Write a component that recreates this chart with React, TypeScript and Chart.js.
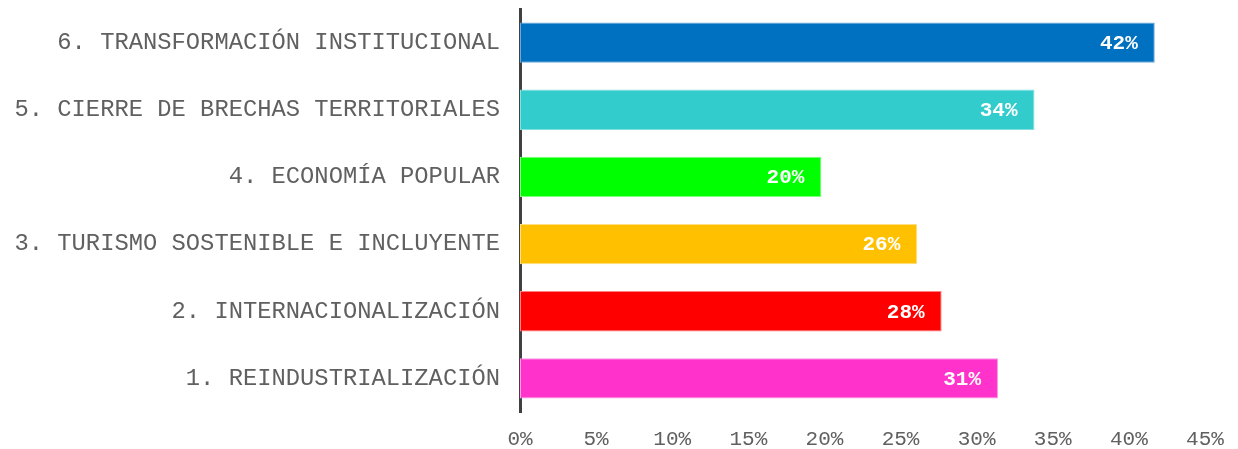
import React, { useEffect, useRef } from "react";
import { Chart, registerables } from "chart.js";

Chart.register(...registerables);

const categories = [
  "6. TRANSFORMACIÓN INSTITUCIONAL",
  "5. CIERRE DE BRECHAS TERRITORIALES",
  "4. ECONOMÍA POPULAR",
  "3. TURISMO SOSTENIBLE E INCLUYENTE",
  "2. INTERNACIONALIZACIÓN",
  "1. REINDUSTRIALIZACIÓN",
];
const values = [41.7, 33.8, 19.8, 26.1, 27.7, 31.4];
const barColors = ["#0070C0", "#33CCCC", "#00FF00", "#FFC000", "#FF0000", "#FF33CC"];
const borderColors = ["#6FA8DC", "#85E0E0", "#80FF80", "#FFDF80", "#FF8080", "#FF99E6"];
const xTicks = [0, 5, 10, 15, 20, 25, 30, 35, 40, 45];

const FONT = "'Liberation Mono', 'Courier New', monospace";

const valueLabels = {
  id: "valueLabels",
  afterDatasetsDraw(chart: any) {
    const ctx = chart.ctx;
    const meta = chart.getDatasetMeta(0);
    ctx.save();
    ctx.font = `bold 21px ${FONT}`;
    ctx.fillStyle = "#FFFFFF";
    ctx.textAlign = "right";
    ctx.textBaseline = "middle";
    meta.data.forEach((el: any, i: number) => {
      ctx.fillText(`${Math.round(values[i])}%`, el.x - 17, el.y + 1);
    });
    ctx.restore();
  },
};

export default function App() {
  const ref = useRef<HTMLCanvasElement | null>(null);
  useEffect(() => {
    if (!ref.current) return;
    const chart = new Chart(ref.current, {
      type: "bar",
      data: {
        labels: categories,
        datasets: [
          {
            data: values,
            backgroundColor: barColors,
            borderColor: borderColors,
            borderWidth: 1,
            borderSkipped: false,
            categoryPercentage: 1,
            barPercentage: 0.6,
          },
        ],
      },
      options: {
        indexAxis: "y",
        animation: false,
        responsive: true,
        maintainAspectRatio: false,
        layout: { padding: { top: 9, right: 33, bottom: 0, left: 0 } },
        plugins: { legend: { display: false }, tooltip: { enabled: false } },
        scales: {
          x: {
            min: 0,
            max: 45,
            afterBuildTicks(scale: any) {
              scale.ticks = xTicks.map((v) => ({ value: v }));
            },
            afterFit(scale: any) {
              scale.height = 37;
            },
            grid: { display: false },
            border: { display: false },
            ticks: {
              padding: 7,
              color: "#606060",
              font: { family: FONT, size: 21 },
              maxRotation: 0,
              callback: (v: any) => `${v}%`,
            },
          },
          y: {
            afterFit(scale: any) {
              scale.width = 520;
              scale.paddingTop = 0;
              scale.paddingBottom = 0;
            },
            grid: { display: false },
            border: { display: true, color: "#404040", width: 3 },
            ticks: {
              padding: 12,
              color: "#606060",
              font: { family: FONT, size: 23.8 },
            },
          },
        },
      },
      plugins: [valueLabels],
    });
    return () => chart.destroy();
  }, []);
  return (
    <div style={{ position: "fixed", left: 0, top: 0, width: 1238, height: 449, background: "#fff" }}>
      <canvas ref={ref} />
    </div>
  );
}
